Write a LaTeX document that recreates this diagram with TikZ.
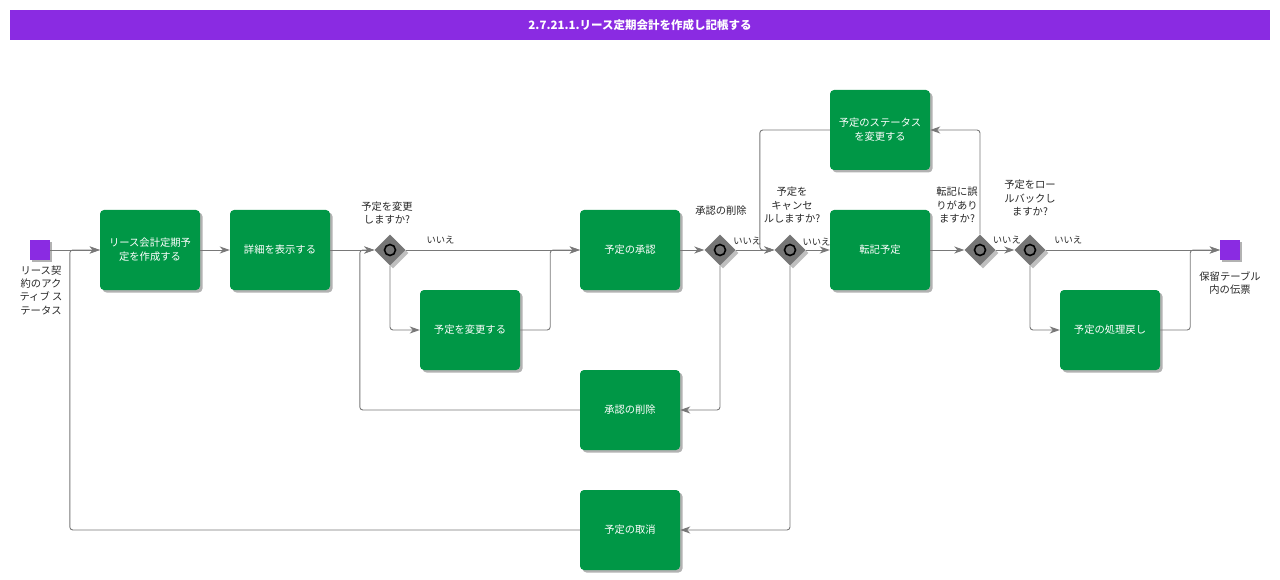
\documentclass[tikz,border=0pt]{standalone}
\usepackage{fontspec}
\setmainfont{Noto Sans CJK JP}
\usetikzlibrary{shapes.geometric,shadows,arrows.meta,calc}
\definecolor{bpgreen}{RGB}{0,151,70}
\definecolor{bppurple}{RGB}{138,43,226}
\definecolor{linegray}{RGB}{120,120,120}
\definecolor{gwgray}{RGB}{118,118,118}
\definecolor{labtext}{RGB}{40,40,40}
\tikzset{
  task/.style={rectangle, rounded corners=4pt, fill=bpgreen, minimum width=100pt, minimum height=80pt,
    inner sep=2pt, text=white, align=center, font=\fontsize{10.3}{14}\selectfont,
    drop shadow={shadow xshift=2.5pt, shadow yshift=-2.5pt, fill=black, opacity=0.3}},
  gw/.style={diamond, fill=gwgray, minimum width=31pt, minimum height=31pt, inner sep=0pt,
    drop shadow={shadow xshift=3pt, shadow yshift=-3pt, fill=black, opacity=0.25}},
  gwc/.style={circle, draw=black, line width=1.6pt, fill=gwgray, minimum size=11pt, inner sep=0pt},
  ev/.style={rectangle, fill=bppurple, minimum width=20pt, minimum height=20pt, inner sep=0pt,
    drop shadow={shadow xshift=2pt, shadow yshift=-2pt, fill=black, opacity=0.3}},
  flow/.style={draw=linegray, line width=0.9pt, rounded corners=3pt,
    -{Stealth[length=10pt,width=7pt,inset=3pt]}},
  lab/.style={text=labtext, align=center, inner sep=0pt, font=\fontsize{10.3}{13.3}\selectfont},
  nolab/.style={text=labtext, inner sep=0pt, font=\fontsize{9.3}{10}\selectfont},
}
\begin{document}
\begin{tikzpicture}[x=1pt,y=-1pt]
\useasboundingbox (0,0) rectangle (1280,580);
\fill[white] (0,0) rectangle (1280,580);
% title
\node[fill=bppurple, minimum width=1260pt, minimum height=30pt, inner sep=0pt, text=white,
  font=\fontsize{11.5}{13}\selectfont\bfseries] (title) at (640,25) {2.7.21.1.リース定期会計を作成し記帳する};
% events
\node[ev] (start) at (40,250) {};
\node[ev] (end) at (1230,250) {};
\node[lab] (startlab) at (41,290) {リース契\\約のアク\\ティブ ス\\テータス};
\node[lab] (endlab) at (1230,283) {保留テーブル\\内の伝票};
% tasks
\node[task] (a1) at (150,250) {リース会計定期予\\定を作成する};
\node[task] (a2) at (280,250) {詳細を表示する};
\node[task] (a3) at (470,330) {予定を変更する};
\node[task] (a4) at (630,250) {予定の承認};
\node[task] (a5) at (630,410) {承認の削除};
\node[task] (a6) at (630,530) {予定の取消};
\node[task] (a7) at (880,250) {転記予定};
\node[task] (a8) at (880,130) {予定のステータス\\を変更する};
\node[task] (a9) at (1110,330) {予定の処理戻し};
% gateways
\node[gw] (g1) at (390,250) {};
\node[gwc] (g1c) at (390,250) {};
\node[gw] (g2) at (720,250) {};
\node[gwc] (g2c) at (720,250) {};
\node[gw] (g3) at (790,250) {};
\node[gwc] (g3c) at (790,250) {};
\node[gw] (g4) at (980,250) {};
\node[gwc] (g4c) at (980,250) {};
\node[gw] (g5) at (1030,250) {};
\node[gwc] (g5c) at (1030,250) {};
% gateway labels
\node[lab] (g1lab) at (387,213) {予定を変更\\しますか?};
\node[lab] (g2lab) at (721,211) {承認の削除};
\node[lab] (g3lab) at (792,205) {予定を\\キャンセ\\ルしますか?};
\node[lab] (g4lab) at (957,205) {転記に誤\\りがあり\\ますか?};
\node[lab] (g5lab) at (1030,198) {予定をロー\\ルバックし\\ますか?};
% flows
\draw[flow] (start.east) -- (a1.west);
\draw[flow] (a1.east) -- (a2.west);
\draw[flow] (a2.east) -- (g1.west);
\draw[flow] (g1.east) -- node[nolab, above=6pt, pos=0.2] (n1) {いいえ} (a4.west);
\draw[flow] (g1.south) |- (a3.west);
\draw[flow] (a3.east) -- ++(30,0) |- (a4.west);
\draw[flow] (a4.east) -- (g2.west);
\draw[flow] (g2.east) -- node[nolab, above=5pt, pos=0.3] (n2) {いいえ} (g3.west);
\draw[flow] (g2.south) |- (a5.east);
\draw[flow] (a5.west) -- ++(-220,0) |- (g1.west);
\draw[flow] (g3.east) -- node[nolab, above=4pt, pos=0.45] (n3) {いいえ} (a7.west);
\draw[flow] (g3.south) |- (a6.east);
\draw[flow] (a6.west) -- ++(-510,0) |- (a1.west);
\draw[flow] (a7.east) -- (g4.west);
\draw[flow] (g4.north) |- (a8.east);
\draw[flow] (a8.west) -- ++(-70,0) |- (g3.west);
\draw[flow] (g4.east) -- node[nolab, above=6pt, pos=0.6] (n4) {いいえ} (g5.west);
\draw[flow] (g5.east) -- node[nolab, above=6pt, pos=0.13] (n5) {いいえ} (end.west);
\draw[flow] (g5.south) |- (a9.west);
\draw[flow] (a9.east) -- ++(30,0) |- (end.west);
\end{tikzpicture}
\end{document}
